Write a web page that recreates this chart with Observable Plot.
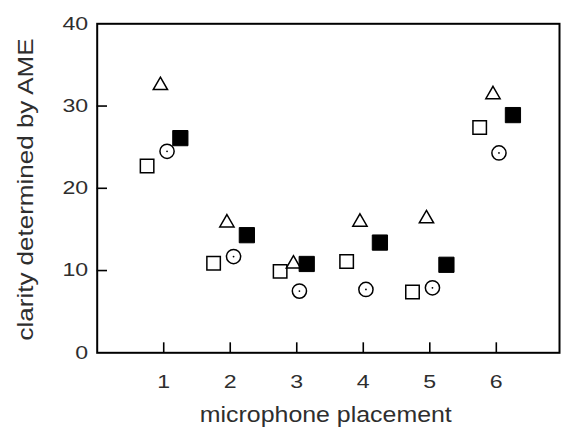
<!DOCTYPE html>
<html><head><meta charset="utf-8">
<script src="https://cdn.jsdelivr.net/npm/d3@7"></script>
<script src="https://cdn.jsdelivr.net/npm/@observablehq/plot@0.6"></script>
<style>body{margin:0;background:#fff}#chart{width:562px;height:429px}</style>
</head><body><div id="chart"></div>
<script>
// Data
const placement = [1, 2, 3, 4, 5, 6];
const openSquareX = [0.75, 1.75, 2.75, 3.75, 4.74, 5.75];
const openSquare = [22.7, 10.9, 9.9, 11.1, 7.4, 27.4];
const triangleX = [0.95, 1.95, 2.95, 3.95, 4.95, 5.95];
const triangle = [32.5, 15.8, 10.8, 15.9, 16.3, 31.4];
const circleX = [1.05, 2.05, 3.04, 4.04, 5.04, 6.04];
const circle = [24.5, 11.7, 7.5, 7.7, 7.9, 24.3];
const filledSquareX = [1.25, 2.25, 3.15, 4.25, 5.25, 6.25];
const filledSquare = [26.1, 14.3, 10.8, 13.4, 10.7, 28.9];
const xTicks = [1, 2, 3, 4, 5, 6];
const yTickLabels = [0, 10, 20, 30, 40];
const yInnerTicks = [10, 20, 30];
const xLabel = "microphone placement";
const yLabel = "clarity determined by AME";

const rows = (xs, ys) => xs.map((x, i) => ({x, y: ys[i]}));

const chart = Plot.plot({
  width: 562, height: 429,
  marginLeft: 96.7, marginRight: 3, marginTop: 23.3, marginBottom: 76.7,
  style: {fontFamily: "'Liberation Sans', Arial, sans-serif", fontSize: "18.5px", color: "#333", background: "#fff", overflow: "visible"},
  x: {domain: [0, 6.95]},
  y: {domain: [0, 40]},
  marks: [
    Plot.axisX({ticks: xTicks, tickFormat: d3.format("d"), tickSize: 0, tickPadding: 22, label: null, fill: "#2e2e2e"}),
    Plot.axisY({ticks: yTickLabels, tickFormat: d3.format("d"), tickSize: 0, tickPadding: 9, label: null, fill: "#2e2e2e"}),
    Plot.tickX(xTicks, {x: d => d, insetTop: 319, stroke: "#000", strokeWidth: 1.6}),
    Plot.tickY(yInnerTicks, {y: d => d, insetRight: 452, stroke: "#000", strokeWidth: 1.6}),
    Plot.dot(rows(openSquareX, openSquare), {x: "x", y: "y", symbol: "square", r: 7.6, stroke: "#000", strokeWidth: 1.5, fill: "white"}),
    Plot.dot(rows(triangleX, triangle), {x: "x", y: "y", symbol: "triangle", r: 5.3, stroke: "#000", strokeWidth: 1.5, fill: "white"}),
    Plot.dot(rows(circleX, circle), {x: "x", y: "y", symbol: "circle", r: 7.1, stroke: "#000", strokeWidth: 1.5, fill: "white"}),
    Plot.dot(rows(circleX, circle), {x: "x", y: "y", r: 0.9, fill: "#000"}),
    Plot.dot(rows(filledSquareX, filledSquare), {x: "x", y: "y", symbol: "square", r: 8.6, stroke: "#000", strokeWidth: 1, fill: "#000"}),
    Plot.frame({stroke: "#000", strokeWidth: 2}),
    Plot.text([xLabel], {text: d => d, frameAnchor: "bottom-left", dx: 102.6, dy: 62, textAnchor: "start", lineAnchor: "middle", fontSize: 22, fill: "#2e2e2e"}),
    Plot.text([yLabel], {text: d => d, frameAnchor: "bottom-left", dx: -71, dy: -12.3, rotate: -90, textAnchor: "start", lineAnchor: "middle", fontSize: 22.5, fill: "#2e2e2e"})
  ]
});
document.getElementById("chart").appendChild(chart);

// text in the reference is drawn slightly wider than the font's natural width
chart.querySelectorAll("text").forEach(t => {
  const s = t.textContent;
  if (s === xLabel) { t.setAttribute("textLength", 252); t.setAttribute("lengthAdjust", "spacingAndGlyphs"); }
  else if (s === yLabel) { t.setAttribute("textLength", 302); t.setAttribute("lengthAdjust", "spacingAndGlyphs"); }
});
chart.querySelectorAll('g[aria-label="x-axis tick label"] text, g[aria-label="y-axis tick label"] text').forEach(t => {
  const tr = t.getAttribute("transform") || "";
  t.setAttribute("transform", tr + " scale(1.25,1)");
});
</script>
</body></html>
